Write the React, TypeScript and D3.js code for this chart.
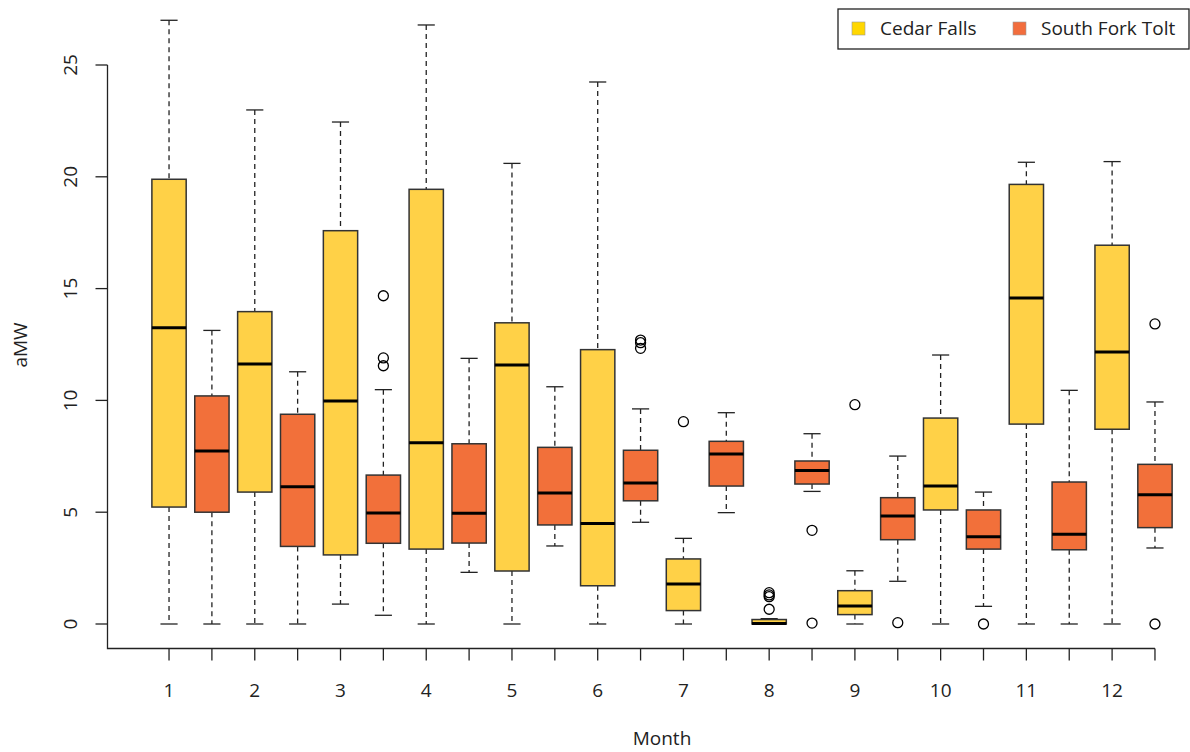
import React from "react";
import * as d3 from "d3";

const months = ["1", "2", "3", "4", "5", "6", "7", "8", "9", "10", "11", "12"];
const seriesNames = ["Cedar Falls", "South Fork Tolt"];
const seriesColors = ["#FFD147", "#F2703A"];
const legendColors = ["#FFD700", "#F26D3D"];

// [lowerWhisker, Q1, median, Q3, upperWhisker]
const cedarStats: number[][] = [
  [0, 5.23, 13.25, 19.89, 27.0],
  [0, 5.9, 11.63, 13.97, 22.99],
  [0.89, 3.09, 9.97, 17.59, 22.45],
  [0, 3.35, 8.11, 19.44, 26.79],
  [0, 2.37, 11.58, 13.47, 20.6],
  [0, 1.71, 4.5, 12.27, 24.24],
  [0, 0.6, 1.79, 2.91, 3.83],
  [0, 0, 0.02, 0.2, 0.24],
  [0, 0.42, 0.8, 1.49, 2.38],
  [0, 5.1, 6.17, 9.21, 12.03],
  [0, 8.94, 14.58, 19.66, 20.65],
  [0, 8.71, 12.16, 16.94, 20.68],
];
const cedarOutliers: number[][] = [
  [], [], [], [], [], [], [9.05], [1.4, 1.3, 1.22, 0.66], [9.81], [], [], [],
];
const toltStats: number[][] = [
  [0, 5.0, 7.74, 10.2, 13.13],
  [0, 3.47, 6.14, 9.38, 11.28],
  [0.39, 3.61, 4.96, 6.66, 10.48],
  [2.31, 3.62, 4.95, 8.06, 11.88],
  [3.49, 4.43, 5.86, 7.9, 10.61],
  [4.55, 5.51, 6.31, 7.77, 9.62],
  [4.98, 6.17, 7.6, 8.17, 9.45],
  [5.93, 6.26, 6.86, 7.29, 8.51],
  [1.91, 3.77, 4.83, 5.65, 7.51],
  [0.79, 3.35, 3.9, 5.1, 5.9],
  [0, 3.32, 4.01, 6.35, 10.45],
  [3.4, 4.31, 5.78, 7.14, 9.93],
];
const toltOutliers: number[][] = [
  [], [], [14.68, 11.9, 11.55], [], [], [12.7, 12.58, 12.33], [], [4.19, 0.04], [0.06], [0], [], [13.42, 0],
];
const yTicks = [0, 5, 10, 15, 20, 25];

const FONT = "'Open Sans', 'Noto Sans', sans-serif";
const FS = 19;

export default function App() {
  const W = 1190;
  const H = 752;
  const x = d3.scaleLinear().domain([0.5, 24.5]).range([147.6, 1176.4]);
  const y = d3.scaleLinear().domain([0, 25]).range([624, 65]);
  const step = x(2) - x(1);
  const bw = step * 0.8;
  const cw = bw * 0.5;
  const axisX = 107.5;
  const axisY = 648.5;

  const boxes: { pos: number; s: number[]; out: number[]; color: string }[] = [];
  months.forEach((m, i) => {
    boxes.push({ pos: 2 * i + 1, s: cedarStats[i], out: cedarOutliers[i], color: seriesColors[0] });
    boxes.push({ pos: 2 * i + 2, s: toltStats[i], out: toltOutliers[i], color: seriesColors[1] });
  });

  const positions = d3.range(1, 25);

  return (
    <svg width={W} height={H} style={{ position: "absolute", left: 0, top: 0, background: "#fff" }}>
      {boxes.map((b, k) => {
        const cx = x(b.pos);
        const [lo, q1, med, q3, hi] = b.s;
        return (
          <g key={k}>
            <line x1={cx} x2={cx} y1={y(hi)} y2={y(q3)} stroke="#222" strokeWidth={1.3} strokeDasharray="5,4" />
            <line x1={cx} x2={cx} y1={y(q1)} y2={y(lo)} stroke="#222" strokeWidth={1.3} strokeDasharray="5,4" />
            <line x1={cx - cw / 2} x2={cx + cw / 2} y1={y(hi)} y2={y(hi)} stroke="#222" strokeWidth={1.3} />
            <line x1={cx - cw / 2} x2={cx + cw / 2} y1={y(lo)} y2={y(lo)} stroke="#222" strokeWidth={1.3} />
            <rect x={cx - bw / 2} y={y(q3)} width={bw} height={Math.max(0, y(q1) - y(q3))} fill={b.color} stroke="#333" strokeWidth={1.5} />
            <line x1={cx - bw / 2} x2={cx + bw / 2} y1={y(med)} y2={y(med)} stroke="#000" strokeWidth={3} />
            {b.out.map((o, j) => (
              <circle key={j} cx={cx} cy={y(o)} r={5} fill="none" stroke="#000" strokeWidth={1.3} />
            ))}
          </g>
        );
      })}

      <path d={`M${axisX},${y(25)}V${axisY}H${x(24)}`} fill="none" stroke="#222" strokeWidth={1.3} />
      {yTicks.map((t) => (
        <g key={t}>
          <line x1={axisX - 12} x2={axisX} y1={y(t)} y2={y(t)} stroke="#222" strokeWidth={1.3} />
          <text
            x={0}
            y={0}
            transform={`translate(${axisX - 31},${y(t)}) rotate(-90)`}
            textAnchor="middle"
            fontFamily={FONT}
            fontSize={FS}
            fill="#222"
          >
            {t}
          </text>
        </g>
      ))}
      {positions.map((p) => (
        <line key={p} x1={x(p)} x2={x(p)} y1={axisY} y2={axisY + 12} stroke="#222" strokeWidth={1.3} />
      ))}
      {months.map((m, i) => (
        <text key={m} x={x(2 * i + 1)} y={697} textAnchor="middle" fontFamily={FONT} fontSize={FS} fill="#222">
          {m}
        </text>
      ))}
      <text x={662} y={745} textAnchor="middle" fontFamily={FONT} fontSize={FS} fill="#222">
        Month
      </text>
      <text transform={`translate(27,345) rotate(-90)`} textAnchor="middle" fontFamily={FONT} fontSize={FS} fill="#222">
        aMW
      </text>

      <rect x={838} y={9} width={351} height={40} fill="#fff" stroke="#222" strokeWidth={1.3} />
      <rect x={852} y={22} width={13} height={13} fill={legendColors[0]} stroke="#999" strokeWidth={0.6} />
      <text x={880} y={35} fontFamily={FONT} fontSize={FS} fill="#222">{seriesNames[0]}</text>
      <rect x={1013} y={22} width={13} height={13} fill={legendColors[1]} stroke="#999" strokeWidth={0.6} />
      <text x={1041} y={35} fontFamily={FONT} fontSize={FS} fill="#222">{seriesNames[1]}</text>
    </svg>
  );
}
